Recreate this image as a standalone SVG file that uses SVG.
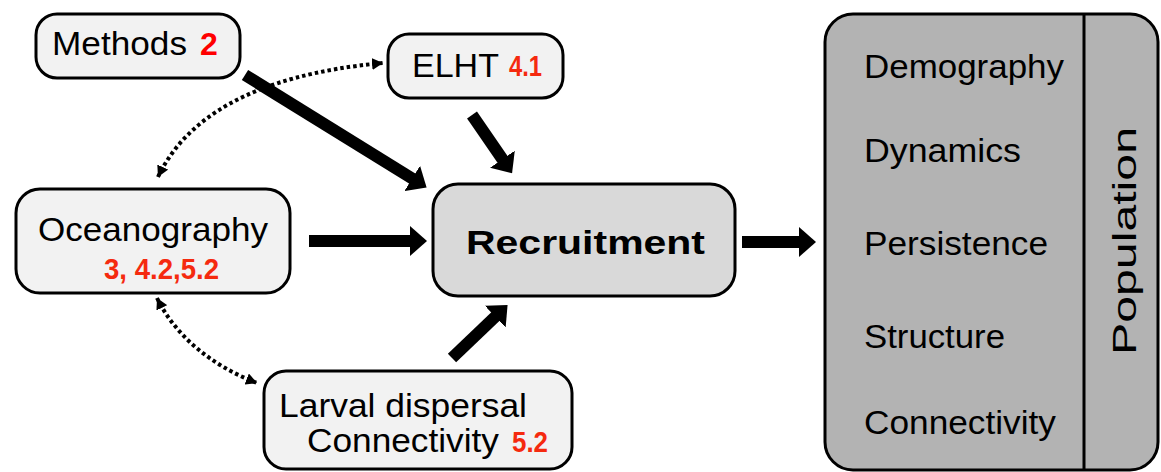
<svg xmlns="http://www.w3.org/2000/svg" width="1161" height="472" viewBox="0 0 1161 472">
<style>
.box{fill:#f2f2f2;stroke:#000;stroke-width:3}
.t{font-family:"Liberation Sans",Arial,sans-serif;font-size:34px;fill:#000}
.r{font-family:"Liberation Sans",Arial,sans-serif;font-weight:bold;fill:#f52a0f}
.thick{stroke:#000;stroke-width:12;fill:none}
.dot{stroke:#000;stroke-width:4;fill:none;stroke-dasharray:3.5 3}
</style>
<defs>
<marker id="big" viewBox="0 0 17 30" refX="1" refY="15" markerWidth="17" markerHeight="30" markerUnits="userSpaceOnUse" orient="auto">
<path d="M0,0 L17,15 L0,30 z" fill="#000"/>
</marker>
<marker id="small" viewBox="0 0 11 12" refX="11" refY="6" markerWidth="11" markerHeight="12" markerUnits="userSpaceOnUse" orient="auto-start-reverse">
<path d="M0,0 L11,6 L0,12 z" fill="#000"/>
</marker>
</defs>
<g id="connectors">
<line class="thick" x1="245" y1="75" x2="413" y2="179" marker-end="url(#big)"/>
<line class="thick" x1="472" y1="115" x2="503" y2="160" marker-end="url(#big)"/>
<line class="thick" x1="309" y1="241" x2="411" y2="241" marker-end="url(#big)"/>
<line class="thick" x1="452" y1="358" x2="496" y2="316" marker-end="url(#big)"/>
<line class="thick" x1="742" y1="242" x2="800" y2="242" marker-end="url(#big)"/>
<path class="dot" d="M158,177 C185,120 250,75 383,63" marker-start="url(#small)" marker-end="url(#small)"/>
<path class="dot" d="M157,298 C175,335 210,365 257,383" marker-start="url(#small)" marker-end="url(#small)"/>
</g>
<g id="methods">
<rect class="box" x="36" y="14" width="204" height="64" rx="21"/>
<text class="t" x="52" y="55" textLength="135" lengthAdjust="spacingAndGlyphs">Methods</text>
<text class="r" x="200" y="55" font-size="32" style="fill:#ff0000">2</text>
</g>
<g id="elht">
<rect class="box" x="388" y="34" width="175" height="64" rx="21"/>
<text class="t" x="412" y="77">ELHT</text>
<text class="r" x="509" y="76" font-size="29" textLength="33" lengthAdjust="spacingAndGlyphs">4.1</text>
</g>
<g id="oceanography">
<rect class="box" x="16" y="189" width="274" height="104" rx="24"/>
<text class="t" x="38" y="241" textLength="230" lengthAdjust="spacingAndGlyphs">Oceanography</text>
<text class="r" x="104" y="279" font-size="30" textLength="115" lengthAdjust="spacingAndGlyphs">3, 4.2,5.2</text>
</g>
<g id="larval">
<rect class="box" x="264" y="371" width="308" height="98" rx="22"/>
<text class="t" x="279" y="417" font-size="31" textLength="248" lengthAdjust="spacingAndGlyphs">Larval dispersal</text>
<text class="t" x="307" y="452" font-size="31" textLength="192" lengthAdjust="spacingAndGlyphs">Connectivity</text>
<text class="r" x="512" y="452" font-size="29" textLength="36" lengthAdjust="spacingAndGlyphs">5.2</text>
</g>
<g id="recruitment">
<rect x="433" y="184" width="302" height="112" rx="25" fill="#d9d9d9" stroke="#000" stroke-width="3"/>
<text class="t" x="466" y="254" font-size="37" font-weight="bold" textLength="239" lengthAdjust="spacingAndGlyphs">Recruitment</text>
</g>
<g id="population">
<rect x="825" y="14" width="333" height="456" rx="28" fill="#b3b3b3" stroke="#000" stroke-width="3"/>
<line x1="1084" y1="14" x2="1084" y2="470" stroke="#000" stroke-width="3"/>
<text class="t" x="864" y="78" textLength="200" lengthAdjust="spacingAndGlyphs">Demography</text>
<text class="t" x="864" y="162" textLength="157" lengthAdjust="spacingAndGlyphs">Dynamics</text>
<text class="t" x="864" y="255" textLength="184" lengthAdjust="spacingAndGlyphs">Persistence</text>
<text class="t" x="864" y="348" textLength="141" lengthAdjust="spacingAndGlyphs">Structure</text>
<text class="t" x="864" y="434" textLength="192" lengthAdjust="spacingAndGlyphs">Connectivity</text>
<text class="t" transform="translate(1136,355) rotate(-90)" font-size="38" textLength="228" lengthAdjust="spacingAndGlyphs">Population</text>
</g>
</svg>
